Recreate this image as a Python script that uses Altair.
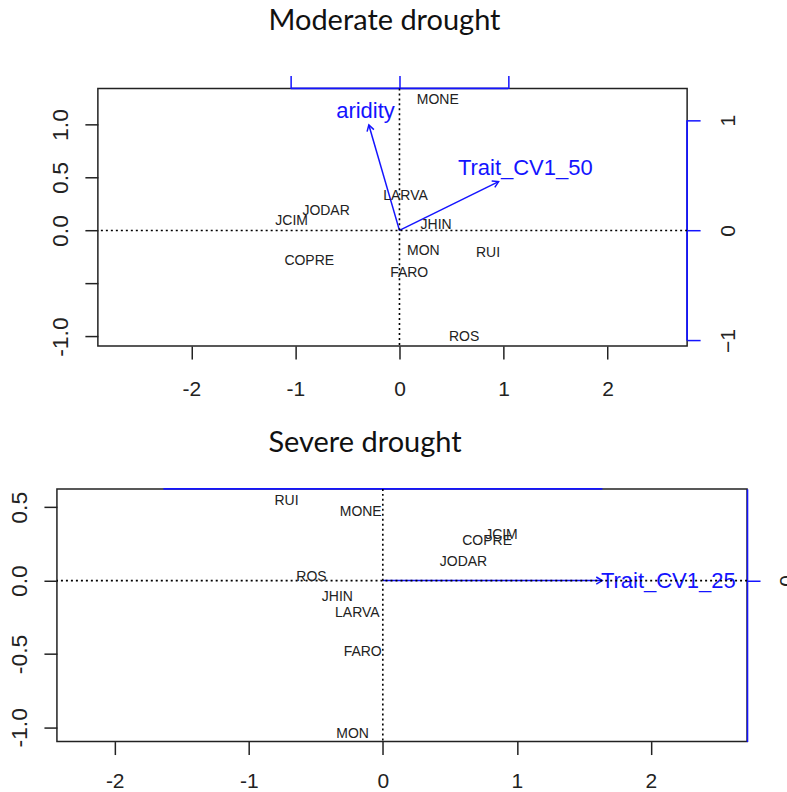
import math
import altair as alt
import pandas as pd

# ---------------- Moderate drought ----------------
mod_sites = ["JCIM", "JODAR", "COPRE", "MONE", "LARVA", "JHIN", "MON", "FARO", "RUI", "ROS"]
mod_ax1 = [-1.036, -0.705, -0.867, 0.368, 0.058, 0.352, 0.230, 0.093, 0.851, 0.621]
mod_ax2 = [0.091, 0.188, -0.292, 1.230, 0.325, 0.054, -0.191, -0.400, -0.213, -1.007]

mod_vars = ["aridity", "Trait_CV1_50"]
mod_vec1 = [-0.282, 0.913]
mod_vec2 = [0.957, 0.443]
mod_lab1 = [-0.313, 1.159]
mod_lab2 = [1.086, 0.565]

# ---------------- Severe drought ----------------
sev_sites = ["RUI", "MONE", "ROS", "JHIN", "LARVA", "FARO", "MON", "COPRE", "JCIM", "JODAR"]
sev_ax1 = [-0.718, -0.165, -0.532, -0.339, -0.190, -0.150, -0.225, 0.778, 0.885, 0.602]
sev_ax2 = [0.545, 0.466, 0.023, -0.114, -0.223, -0.489, -1.045, 0.273, 0.314, 0.125]

sev_vars = ["Trait_CV1_25"]
sev_vec1 = [0.999]
sev_vec2 = [0.0]
sev_lab1 = [1.30]
sev_lab2 = [0.0]

# ---------------- scales and ticks ----------------
mod_xdom = [-2.898, 2.764]
mod_ydom = [-1.09, 1.34]
mod_x2dom = [-2.778, 2.650]
mod_y2dom = [-1.050, 1.289]

sev_xdom = [-2.431, 2.717]
sev_ydom = [-1.097, 0.625]
sev_x2dom = [-1.485, 1.659]
sev_y2dom = [-0.671, 0.382]

x_ticks = [-2, -1, 0, 1, 2]
mod_yticks = [-1, -0.5, 0, 0.5, 1]
sev_yticks = [-1, -0.5, 0, 0.5]
mod_x2ticks = [-1, 0, 1]
mod_y2ticks = [-1, 0, 1]
sev_x2ticks = [-1, 1]
sev_y2ticks = [0]

BLUE = "#1414ff"
INK = "#222222"
AXFONT = "Liberation Sans Narrow, Liberation Sans, Arial"
TXTFONT = "Liberation Sans, Arial"
V_HEAD = "M -1 -0.6 L 0 0 L -1 0.6"
MINUS = "replace(datum.label, '\u2212', '-')"


def sc(dom):
    return alt.Scale(domain=dom, nice=False, zero=False)


def panel(sites, a1, a2, vars_, v1, v2, l1, l2, xdom, ydom, x2dom, y2dom,
          yticks, hide_half, x2ticks, x2_axis, y2ticks, y2_domain_line,
          width, height, title, title_dx, title_offset, xpad, yext=None):
    # primary axes (site scores)
    ylab = ("datum.value == -0.5 ? '' : " + MINUS) if hide_half else MINUS
    xax = alt.Axis(orient="bottom", values=x_ticks, labelExpr=MINUS, labelFont=AXFONT,
                   labelFontSize=21, labelPadding=xpad, labelColor=INK, labelFlush=False,
                   labelOverlap=False, tickSize=13, tickWidth=1.5, tickColor=INK,
                   domain=False, grid=False, title=None)
    yopts = dict(orient="left", values=yticks, format=".1f", labelExpr=ylab, labelFont=AXFONT,
                 labelFontSize=23, labelPadding=12, labelColor=INK, labelAngle=270,
                 labelAlign="center", labelBaseline="bottom", labelFlush=False,
                 labelOverlap=False, tickSize=13, tickWidth=1.5, tickColor=INK,
                 domain=False, grid=False, title=None)
    if yext is not None:
        yopts.update(minExtent=yext, maxExtent=yext)
    yax = alt.Axis(**yopts)

    pts = pd.DataFrame({"site": sites, "a1": a1, "a2": a2})
    zero = pd.DataFrame({"z": [0.0]})

    X = lambda f: alt.X(f, type="quantitative", scale=sc(xdom), axis=xax)
    Y = lambda f: alt.Y(f, type="quantitative", scale=sc(ydom), axis=yax)

    hline = alt.Chart(zero).mark_rule(color="black", strokeWidth=1.6, strokeDash=[2, 3]).encode(y=Y("z"))
    vline = alt.Chart(zero).mark_rule(color="black", strokeWidth=1.6, strokeDash=[2, 3]).encode(x=X("z"))
    labels = alt.Chart(pts).mark_text(font=TXTFONT, fontSize=14, color=INK, align="center",
                                      baseline="middle").encode(x=X("a1"), y=Y("a2"), text="site:N")
    primary = alt.layer(hline, vline, labels)

    # secondary axes (variable loadings)
    if x2_axis:
        x2ax = alt.Axis(orient="top", values=x2ticks, labels=False, tickSize=13, tickWidth=1.5,
                        tickColor=BLUE, domain=False, grid=False, title=None)
    else:
        x2ax = None
    y2ax = alt.Axis(orient="right", values=y2ticks, labelFont=AXFONT, labelFontSize=21,
                    labelPadding=17, labelColor=INK, labelAngle=270, labelAlign="center",
                    labelBaseline="top", labelFlush=False, labelOverlap=False,
                    tickSize=13, tickWidth=1.5, tickColor=BLUE,
                    domain=y2_domain_line, domainColor=BLUE, domainWidth=1.5,
                    grid=False, title=None)

    kx = width / (x2dom[1] - x2dom[0])
    ky = height / (y2dom[1] - y2dom[0])
    ang = [math.degrees(math.atan2(-b * ky, a * kx)) % 360 for a, b in zip(v1, v2)]
    vec = pd.DataFrame({"var": vars_, "o1": [0.0] * len(vars_), "o2": [0.0] * len(vars_),
                        "v1": v1, "v2": v2, "l1": l1, "l2": l2, "ang": ang})

    X2 = lambda f: alt.X(f, type="quantitative", scale=sc(x2dom), axis=x2ax)
    Y2 = lambda f: alt.Y(f, type="quantitative", scale=sc(y2dom), axis=y2ax)

    shafts = alt.Chart(vec).mark_rule(color=BLUE, strokeWidth=1.5).encode(
        x=X2("o1"), y=Y2("o2"), x2="v1:Q", y2="v2:Q")
    heads = alt.Chart(vec).mark_point(shape=V_HEAD, filled=False, color=BLUE, strokeWidth=1.5,
                                      size=140, opacity=1).encode(
        x=X2("v1"), y=Y2("v2"), angle=alt.Angle("ang:Q", scale=None))
    vlabels = alt.Chart(vec).mark_text(font=TXTFONT, fontSize=22, color=BLUE, align="center",
                                       baseline="middle").encode(x=X2("l1"), y=Y2("l2"), text="var:N")

    top_edge = pd.DataFrame({"a": [min(x2ticks)], "b": [max(x2ticks)], "y": [y2dom[1]]})
    top_rule = alt.Chart(top_edge).mark_rule(color=BLUE, strokeWidth=1.8).encode(
        x=X2("a"), x2="b:Q", y=Y2("y"))
    sec_layers = [shafts, heads, vlabels, top_rule]
    if not y2_domain_line:
        right_edge = pd.DataFrame({"x": [x2dom[1]], "a": [min(y2ticks)], "b": [max(y2ticks)]})
        sec_layers.append(alt.Chart(right_edge).mark_rule(color=BLUE, strokeWidth=1.8).encode(
            x=X2("x"), y=Y2("a"), y2="b:Q"))
    secondary = alt.layer(*sec_layers)

    return alt.layer(secondary, primary).resolve_scale(x="independent", y="independent").properties(
        width=width, height=height,
        title=alt.TitleParams(title, font="Lato", fontSize=29, fontWeight="normal", color="#111111",
                              anchor="middle", dx=title_dx, offset=title_offset),
    )


top = panel(mod_sites, mod_ax1, mod_ax2, mod_vars, mod_vec1, mod_vec2, mod_lab1, mod_lab2,
            mod_xdom, mod_ydom, mod_x2dom, mod_y2dom, mod_yticks, True,
            mod_x2ticks, True, mod_y2ticks, False,
            590, 258, "Moderate drought", -8, 39, 19)
bottom = panel(sev_sites, sev_ax1, sev_ax2, sev_vars, sev_vec1, sev_vec2, sev_lab1, sev_lab2,
               sev_xdom, sev_ydom, sev_x2dom, sev_y2dom, sev_yticks, False,
               sev_x2ticks, False, sev_y2ticks, True,
               691, 253, "Severe drought", -37, 30, 16, yext=51)

# an empty, invisible cell pushes the upper panel's plot area to the right
spacer = alt.Chart(pd.DataFrame({"s": [0]})).mark_point(opacity=0).encode(
    x=alt.X("s:Q", axis=None), y=alt.Y("s:Q", axis=None)
).properties(width=1, height=1, view=alt.ViewBackground(stroke=None))

upper = alt.hconcat(spacer, top, spacing=-12)

chart = alt.concat(upper, bottom, columns=1, spacing=28).properties(
    padding={"left": 5, "top": 5, "right": -12, "bottom": -2},
    background="white",
).configure_view(stroke="#222222", strokeWidth=1.5)

chart.save("out.html", embed_options={"renderer": "svg", "actions": False})
